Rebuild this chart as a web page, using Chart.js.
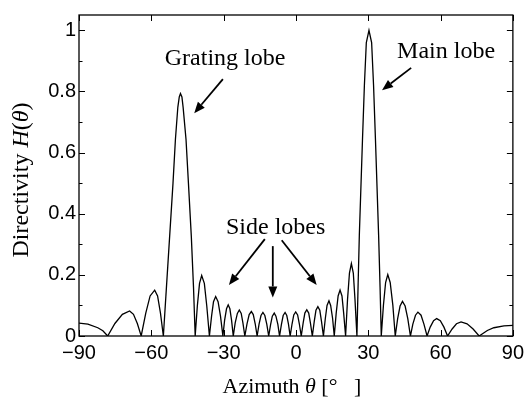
<!DOCTYPE html>
<html><head><meta charset="utf-8">
<script src="https://cdn.jsdelivr.net/npm/chart.js@4.4.1/dist/chart.umd.min.js"></script>
<style>html,body{margin:0;padding:0;background:#fff;}#wrap{width:529px;height:401px;}</style>
</head><body><div id="wrap"><canvas id="c" width="529" height="401"></canvas></div>
<script>
// ---- data ----
const thetaDeg = [
 -90,-86.3,-82.2,-80.1,-78.1,
 -75.1,-72.0,-69.0,-67.4,-65.8,-64.2,
 -62.3,-60.5,-58.6,-57.4,-56.2,-55.0,
 -53.8,-52.4,-51.0,-50.0,-49.0,-48.4,-47.9,-47.3,-46.8,-45.6,-44.6,-43.4,-42.5,-41.8,
 -40.9,-40.0,-39.1,-38.0,-37.0,-35.9,
 -35.0,-34.2,-33.3,-32.3,-31.3,-30.3,
 -29.6,-28.8,-28.1,-27.4,-26.7,-26.0,
 -25.2,-24.3,-23.5,-22.7,-22.0,-21.2,
 -20.3,-19.4,-18.5,-17.7,-16.9,-16.1,
 -15.3,-14.5,-13.7,-12.9,-12.1,-11.3,
 -10.5,-9.8,-9.0,-8.3,-7.5,-6.8,
 -6.0,-5.3,-4.5,-3.8,-3.1,-2.4,
 -1.6,-0.9,-0.1,0.7,1.4,2.2,
 3.0,3.7,4.5,5.3,6.0,6.8,
 7.6,8.3,9.1,9.9,10.6,11.4,
 12.2,12.9,13.7,14.4,15.2,15.9,
 16.7,17.5,18.3,19.1,19.8,20.6,
 21.4,22.2,23.0,23.8,24.5,25.3,
 25.8,26.3,27.6,28.4,29.2,30.3,31.4,32.2,33.0,34.3,34.9,35.4,
 36.3,37.2,38.1,39.1,40.2,41.2,
 42.2,43.2,44.2,45.3,46.4,47.5,
 48.5,49.6,50.6,51.9,53.1,54.4,
 55.7,57.1,58.4,59.9,61.4,62.9,
 64.8,66.6,68.5,71.0,73.5,76.0,
 79.4,82.1,86.3,90
];
const directivity = [
 0.042,0.039,0.027,0.017,0,
 0.041,0.071,0.082,0.071,0.041,0,
 0.075,0.131,0.150,0.131,0.075,0,
 0.15,0.325,0.5,0.643,0.748,0.782,0.793,0.782,0.748,0.643,0.5,0.325,0.16,0,
 0.099,0.172,0.198,0.172,0.099,0,
 0.065,0.112,0.129,0.112,0.065,0,
 0.051,0.089,0.102,0.089,0.051,0,
 0.043,0.074,0.085,0.074,0.043,0,
 0.040,0.070,0.080,0.070,0.040,0,
 0.039,0.067,0.077,0.067,0.039,0,
 0.038,0.065,0.075,0.065,0.038,0,
 0.039,0.067,0.077,0.067,0.039,0,
 0.040,0.069,0.079,0.069,0.040,0,
 0.043,0.075,0.086,0.075,0.043,0,
 0.048,0.084,0.096,0.084,0.048,0,
 0.058,0.100,0.115,0.100,0.058,0,
 0.075,0.131,0.150,0.131,0.075,0,
 0.119,0.206,0.237,0.206,0.119,0,
 0.17,0.33,0.64,0.82,0.96,1.0,0.96,0.82,0.64,0.33,0.16,0,
 0.101,0.175,0.201,0.175,0.101,0,
 0.057,0.098,0.113,0.098,0.057,0,
 0.039,0.068,0.078,0.068,0.039,0,
 0.029,0.050,0.057,0.050,0.029,0,
 0.023,0.040,0.046,0.040,0.023,0,
 0.018,0.027,0.033,0.035
];
const xTickValues = [-90,-60,-30,0,30,60,90];
const xTickLabels = ['\u221290','\u221260','\u221230','0','30','60','90'];
const yTickValues = [0,0.2,0.4,0.6,0.8,1];
const yTickLabels = ['0','0.2','0.4','0.6','0.8','1'];
const yMinorValues = [0.1,0.3,0.5,0.7,0.9];
const labelTexts = ['Grating lobe','Main lobe','Side lobes'];
// annotation anchors in data units (center x, baseline y)
const labelAnchors = [[-29.4,0.885],[62.3,0.909],[-8.4,0.335]];
// arrows in data units: [fromX, fromY, toX, toY]
const arrowList = [
 [-30.3,0.840,-42.2,0.729],
 [47.8,0.877,35.7,0.804],
 [-12.9,0.317,-27.8,0.167],
 [-9.6,0.294,-9.6,0.126],
 [-5.9,0.313,8.6,0.167]
];

const SERIF = '"Liberation Serif","Times New Roman",serif';
const SANS = '"Liberation Sans",Arial,sans-serif';

function drawParts(ctx, parts, x, y) {
  let total = 0;
  const widths = parts.map(p => { ctx.font = p[2]; const w = ctx.measureText(p[0]).width; total += w; return w; });
  let cx = x - total / 2;
  parts.forEach((p, i) => { ctx.font = p[2]; ctx.fillText(p[0], cx, y); cx += widths[i]; });
}

const framePlugin = {
  id: 'frame',
  afterDatasetsDraw(chart) {
    const ctx = chart.ctx, a = chart.chartArea;
    const xs = chart.scales.x, ys = chart.scales.y;
    ctx.save();
    ctx.strokeStyle = '#000';
    ctx.lineWidth = 1.3;
    ctx.strokeRect(a.left, a.top, a.right - a.left, a.bottom - a.top);
    ctx.lineWidth = 1;
    ctx.beginPath();
    xTickValues.forEach(v => {
      const px = Math.round(xs.getPixelForValue(v)) + 0.5;
      ctx.moveTo(px, a.bottom); ctx.lineTo(px, a.bottom - 6);
      ctx.moveTo(px, a.top); ctx.lineTo(px, a.top + 6);
    });
    yTickValues.forEach(v => {
      const py = Math.round(ys.getPixelForValue(v)) + 0.5;
      ctx.moveTo(a.left, py); ctx.lineTo(a.left + 6, py);
      ctx.moveTo(a.right, py); ctx.lineTo(a.right - 6, py);
    });
    yMinorValues.forEach(v => {
      const py = Math.round(ys.getPixelForValue(v)) + 0.5;
      ctx.moveTo(a.left, py); ctx.lineTo(a.left + 3.5, py);
      ctx.moveTo(a.right, py); ctx.lineTo(a.right - 3.5, py);
    });
    ctx.stroke();

    // arrows
    ctx.lineWidth = 1.8;
    ctx.fillStyle = '#000';
    arrowList.forEach(r => {
      const x1 = xs.getPixelForValue(r[0]), y1 = ys.getPixelForValue(r[1]);
      const x2 = xs.getPixelForValue(r[2]), y2 = ys.getPixelForValue(r[3]);
      const ang = Math.atan2(y2 - y1, x2 - x1);
      const hl = 11, hw = 4.5;
      const bx = x2 - hl * Math.cos(ang), by = y2 - hl * Math.sin(ang);
      ctx.beginPath(); ctx.moveTo(x1, y1); ctx.lineTo(bx, by); ctx.stroke();
      ctx.beginPath();
      ctx.moveTo(x2, y2);
      ctx.lineTo(bx + hw * Math.sin(ang), by - hw * Math.cos(ang));
      ctx.lineTo(bx - hw * Math.sin(ang), by + hw * Math.cos(ang));
      ctx.closePath(); ctx.fill();
    });

    // annotation labels
    ctx.fillStyle = '#000';
    ctx.textBaseline = 'alphabetic';
    ctx.textAlign = 'center';
    ctx.font = '24px ' + SERIF;
    labelTexts.forEach((t, i) => {
      ctx.fillText(t, xs.getPixelForValue(labelAnchors[i][0]), ys.getPixelForValue(labelAnchors[i][1]));
    });

    // axis titles
    ctx.textAlign = 'left';
    const up = '22px ' + SERIF, it = 'italic 22px ' + SERIF;
    drawParts(ctx, [['Azimuth ', 0, up], ['\u03b8', 1, it], [' [\u00b0   ]', 0, up]], (a.left + a.right) / 2 - 4, 393);
    ctx.translate(28, 180);
    ctx.rotate(-Math.PI / 2);
    const up2 = '24px ' + SERIF, it2 = 'italic 24px ' + SERIF;
    drawParts(ctx, [['Directivity ', 0, up2], ['H', 1, it2], ['(', 0, up2], ['\u03b8', 1, it2], [')', 0, up2]], 0, 0);
    ctx.restore();
  }
};

new Chart(document.getElementById('c'), {
  type: 'line',
  data: {
    datasets: [{
      data: thetaDeg.map((t, i) => ({x: t, y: directivity[i]})),
      borderColor: '#000',
      borderWidth: 1.3,
      pointRadius: 0,
      tension: 0,
      fill: false
    }]
  },
  options: {
    responsive: false,
    animation: false,
    devicePixelRatio: 1,
    layout: {padding: {left: 0, right: 13, top: 5, bottom: 0}},
    plugins: {legend: {display: false}, tooltip: {enabled: false}},
    scales: {
      x: {
        type: 'linear', min: -90, max: 90,
        afterBuildTicks: s => { s.ticks = xTickValues.map(v => ({value: v})); },
        ticks: {
          callback: v => xTickLabels[xTickValues.indexOf(v)],
          font: {size: 20, family: SANS}, color: '#000', padding: 5,
          maxRotation: 0, autoSkip: false
        },
        grid: {display: false, drawTicks: false},
        border: {display: false},
        afterFit: s => { s.height = 65; }
      },
      y: {
        type: 'linear', min: 0, max: 1.05,
        afterBuildTicks: s => { s.ticks = yTickValues.map(v => ({value: v})); },
        ticks: {
          callback: v => yTickLabels[yTickValues.indexOf(v)],
          font: {size: 20, family: SANS}, color: '#000', padding: 3,
          autoSkip: false
        },
        grid: {display: false, drawTicks: false},
        border: {display: false},
        afterFit: s => { s.width = 79; }
      }
    }
  },
  plugins: [framePlugin]
});
</script>
</body></html>
